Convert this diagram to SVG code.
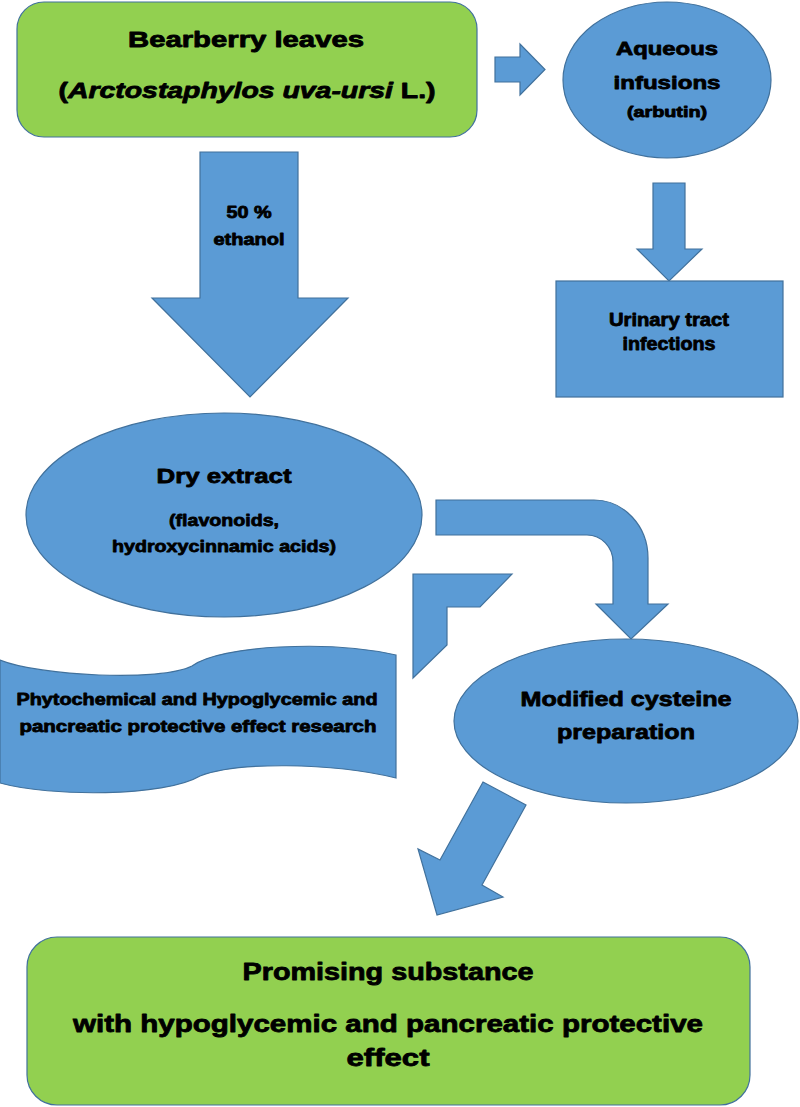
<svg xmlns="http://www.w3.org/2000/svg" width="800" height="1107" viewBox="0 0 800 1107">
<style>
.g{fill:#92D050;stroke:#41719C;stroke-width:1.2}
.b{fill:#5B9BD5;stroke:#41719C;stroke-width:1.2}
text{font-family:"Liberation Sans",Arial,sans-serif;font-weight:bold;fill:#000;stroke:#000;stroke-width:0.8;stroke-linejoin:round;text-anchor:middle}
</style>
<rect width="800" height="1107" fill="#fff"/>
<g id="connectors">
<polygon class="b" points="495,57 520,57 520,44 545,69.5 520,95 520,82 495,82"/>
<polygon class="b" points="200,152 298,152 298,298 348,298 250,397 152,298 200,298"/>
<polygon class="b" points="653,183 685,183 685,249 702,249 669,281 637,249 653,249"/>
<path class="b" d="M436,500 H594 A54,58 0 0 1 648,558 V604 H668 L631,639 L596,604 H613 V562 A26,27 0 0 0 587,535 H436 Z"/>
<polygon class="b" points="413,574 512,574 480,607 447,607 447,645 413,678"/>
<polygon class="b" points="483,782 526,805 482,885 503,897 437,915 418,849 440,860"/>
</g>
<g id="bearberry">
<rect class="g" x="17" y="2" width="460" height="135" rx="27" ry="27"/>
<text x="246" y="47" font-size="21.5" textLength="236" lengthAdjust="spacingAndGlyphs">Bearberry leaves</text>
<text x="247" y="98" font-size="21.5" textLength="377" lengthAdjust="spacingAndGlyphs">(<tspan font-style="italic">Arctostaphylos uva-ursi</tspan> L.)</text>
</g>
<g id="aqueous">
<ellipse class="b" cx="667" cy="80" rx="104" ry="78"/>
<text x="667" y="55" font-size="19" textLength="102" lengthAdjust="spacingAndGlyphs">Aqueous</text>
<text x="667" y="89" font-size="19" textLength="107" lengthAdjust="spacingAndGlyphs">infusions</text>
<text x="667" y="117" font-size="14" textLength="80" lengthAdjust="spacingAndGlyphs">(arbutin)</text>
</g>
<g id="ethanol-label">
<text x="249" y="218" font-size="16" textLength="45" lengthAdjust="spacingAndGlyphs">50 %</text>
<text x="249" y="245" font-size="16" textLength="71" lengthAdjust="spacingAndGlyphs">ethanol</text>
</g>
<g id="urinary">
<rect class="b" x="556" y="281" width="227" height="116"/>
<text x="669" y="326" font-size="18" textLength="120" lengthAdjust="spacingAndGlyphs">Urinary tract</text>
<text x="669" y="350" font-size="18" textLength="93" lengthAdjust="spacingAndGlyphs">infections</text>
</g>
<g id="dry-extract">
<ellipse class="b" cx="224" cy="515" rx="198" ry="102"/>
<text x="224" y="483" font-size="21" textLength="135" lengthAdjust="spacingAndGlyphs">Dry extract</text>
<text x="224" y="526" font-size="17" textLength="110" lengthAdjust="spacingAndGlyphs">(flavonoids,</text>
<text x="224" y="552" font-size="17" textLength="224" lengthAdjust="spacingAndGlyphs">hydroxycinnamic acids)</text>
</g>
<g id="research">
<path class="b" d="M0,660 C40,676 160,682 192,666 C220,645 330,640 396,655 L396,778 C330,762 235,762 200,776 C165,797 50,797 0,783 Z"/>
<text x="197" y="705" font-size="16" textLength="361" lengthAdjust="spacingAndGlyphs">Phytochemical and Hypoglycemic and</text>
<text x="198" y="732" font-size="16" textLength="357" lengthAdjust="spacingAndGlyphs">pancreatic protective effect research</text>
</g>
<g id="modified">
<ellipse class="b" cx="626" cy="721" rx="172" ry="82"/>
<text x="626" y="706" font-size="21" textLength="211" lengthAdjust="spacingAndGlyphs">Modified cysteine</text>
<text x="626" y="739" font-size="21" textLength="138" lengthAdjust="spacingAndGlyphs">preparation</text>
</g>
<g id="promising">
<rect class="g" x="27" y="937" width="723" height="168" rx="30" ry="30"/>
<text x="388" y="980" font-size="24" textLength="291" lengthAdjust="spacingAndGlyphs">Promising substance</text>
<text x="388" y="1032" font-size="24" textLength="630" lengthAdjust="spacingAndGlyphs">with hypoglycemic and pancreatic protective</text>
<text x="388" y="1066" font-size="24" textLength="83" lengthAdjust="spacingAndGlyphs">effect</text>
</g>
</svg>
